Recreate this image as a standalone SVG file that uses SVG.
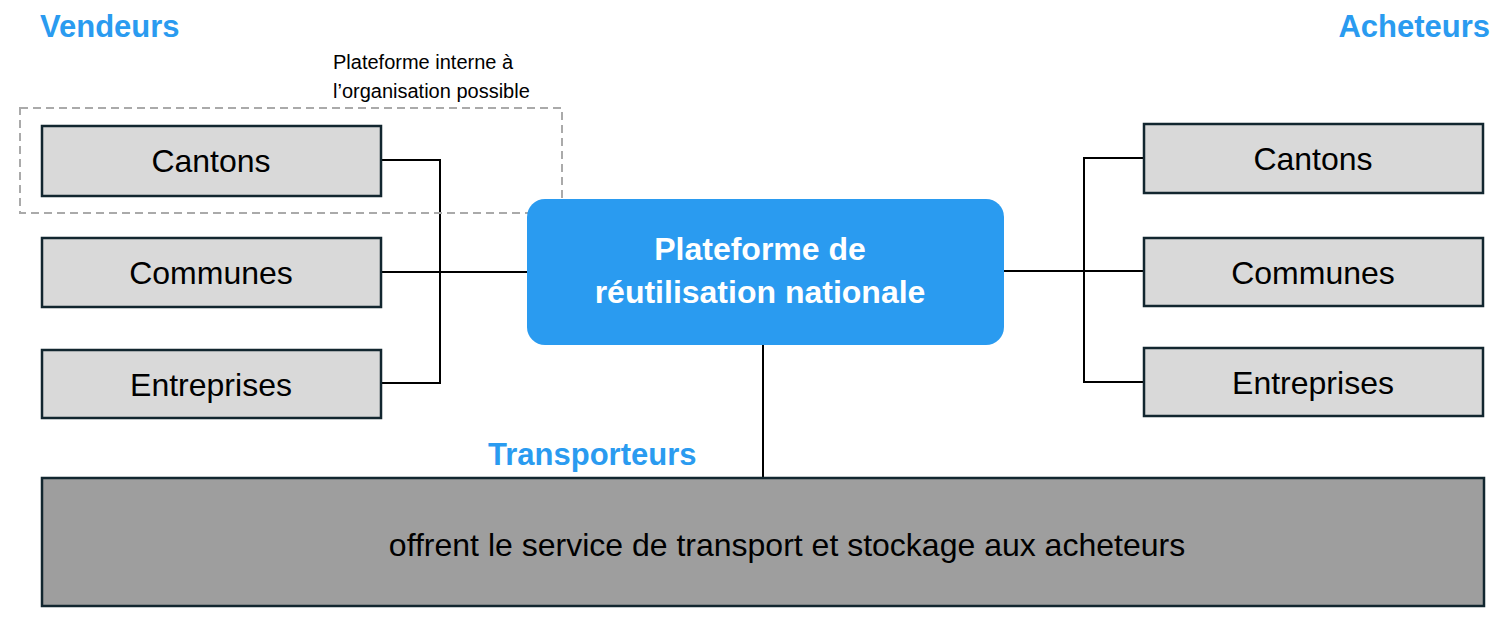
<svg xmlns="http://www.w3.org/2000/svg" width="1506" height="624" viewBox="0 0 1506 624">
<style>
.b{fill:#d9d9d9;stroke:#12262f;stroke-width:2.5}
.t{font-family:"Liberation Sans",Arial,sans-serif;font-size:32px;fill:#000;text-anchor:middle}
.h{font-family:"Liberation Sans",Arial,sans-serif;font-size:31px;font-weight:bold;fill:#2a9bf0}
.c{stroke:#000;stroke-width:2;fill:none}
</style>
<rect width="1506" height="624" fill="#fff"/>
<text class="h" x="40" y="37">Vendeurs</text>
<text class="h" x="1490" y="37" text-anchor="end">Acheteurs</text>
<text class="h" x="488" y="465">Transporteurs</text>
<g id="connectors">
<path class="c" d="M381 160H440V383H381M381 272H527M1004 271H1144M1144 158H1084V382H1144M763 345V478"/>
</g>
<g id="dashed"><rect x="20" y="108" width="542" height="105" fill="none" stroke="#aaa" stroke-width="2" stroke-dasharray="8,5"/>
<text font-family="Liberation Sans,Arial,sans-serif" font-size="20" x="333" y="69">Plateforme interne à</text>
<text font-family="Liberation Sans,Arial,sans-serif" font-size="20" x="333" y="98">l’organisation possible</text></g>
<g id="v-cantons"><rect class="b" x="42" y="126" width="339" height="70"/><text class="t" x="211" y="172">Cantons</text></g>
<g id="v-communes"><rect class="b" x="42" y="238" width="339" height="69"/><text class="t" x="211" y="284">Communes</text></g>
<g id="v-entreprises"><rect class="b" x="42" y="350" width="339" height="68"/><text class="t" x="211" y="396">Entreprises</text></g>
<g id="a-cantons"><rect class="b" x="1144" y="124" width="339" height="69"/><text class="t" x="1313" y="170">Cantons</text></g>
<g id="a-communes"><rect class="b" x="1144" y="238" width="339" height="68"/><text class="t" x="1313" y="284">Communes</text></g>
<g id="a-entreprises"><rect class="b" x="1144" y="348" width="339" height="68"/><text class="t" x="1313" y="394">Entreprises</text></g>
<g id="platform"><rect x="527" y="199" width="477" height="146" rx="18" fill="#2a9bf0"/>
<text class="t" x="760" y="260" style="fill:#fff;font-weight:bold">Plateforme de</text>
<text class="t" x="760" y="303" style="fill:#fff;font-weight:bold">réutilisation nationale</text></g>
<g id="transport"><rect x="42" y="478" width="1442" height="128" fill="#9e9e9e" stroke="#12262f" stroke-width="2.5"/>
<text class="t" x="787" y="556">offrent le service de transport et stockage aux acheteurs</text></g>
</svg>
